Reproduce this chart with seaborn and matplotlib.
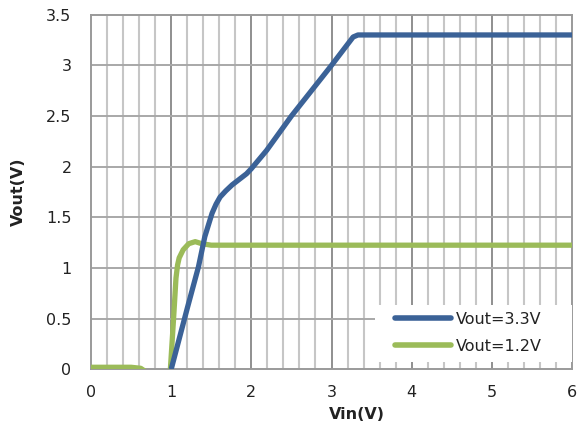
import numpy as np
import pandas as pd
import matplotlib
matplotlib.use("Agg")
import matplotlib.pyplot as plt
from matplotlib.lines import Line2D
from matplotlib.patches import Rectangle
import seaborn as sns

# ---- data ----
vin_33 = [1.0, 1.2, 1.34, 1.42, 1.51, 1.56, 1.61, 1.68, 1.76, 1.94, 2.0, 2.19, 2.5, 3.0, 3.27, 3.33, 3.4, 6.0]
vout_33 = [0.0, 0.6, 1.01, 1.31, 1.54, 1.63, 1.70, 1.76, 1.82, 1.93, 1.98, 2.16, 2.5, 3.0, 3.28, 3.3, 3.3, 3.3]

vin_12 = [0.0, 0.5, 0.62, 0.75, 0.96, 0.99, 1.03, 1.06, 1.08, 1.10, 1.15, 1.22, 1.30, 1.38, 1.5, 6.0]
vout_12 = [0.02, 0.02, 0.01, -0.06, -0.06, 0.0, 0.5, 0.9, 1.03, 1.1, 1.18, 1.24, 1.26, 1.24, 1.225, 1.225]

labels = ["Vout=3.3V", "Vout=1.2V"]
colors = ["#3b6297", "#9bbb59"]
x_ticks = [0, 1, 2, 3, 4, 5, 6]
y_ticks = [0, 0.5, 1, 1.5, 2, 2.5, 3, 3.5]
y_tick_labels = ["0", "0.5", "1", "1.5", "2", "2.5", "3", "3.5"]

df33 = pd.DataFrame({"Vin": vin_33, "Vout": vout_33})
df12 = pd.DataFrame({"Vin": vin_12, "Vout": vout_12})

sns.set_theme(style="white")
plt.rcParams["font.family"] = ["DejaVu Sans"]

fig = plt.figure(figsize=(5.81, 4.29), dpi=100)
ax = fig.add_axes([91 / 581, 1 - 369.3 / 429, 481 / 581, 354.6 / 429])

# grid
for xv in np.arange(0.2, 6.0, 0.2):
    major = abs(xv - round(xv)) < 1e-6
    ax.axvline(xv, color="#8f8f8f" if major else "#c6c6c6",
               lw=1.4 if major else 1.5, zorder=0.5)
for yv in y_ticks[1:-1]:
    ax.axhline(yv, color="#a8a8a8", lw=1.4, zorder=0.5)

sns.lineplot(data=df12, x="Vin", y="Vout", color=colors[1], lw=3.8,
             sort=False, estimator=None, ax=ax, zorder=3, solid_capstyle="butt",
             solid_joinstyle="round")
sns.lineplot(data=df33, x="Vin", y="Vout", color=colors[0], lw=3.8,
             sort=False, estimator=None, ax=ax, zorder=4, solid_capstyle="butt",
             solid_joinstyle="round")

ax.set_xlim(0, 6)
ax.set_ylim(0, 3.5)
ax.set_xticks(x_ticks)
ax.set_xticklabels([str(t) for t in x_ticks])
ax.set_yticks(y_ticks)
ax.set_yticklabels(y_tick_labels)
ax.tick_params(axis="both", length=0, labelsize=11.5, colors="#222222")
ax.tick_params(axis="x", pad=11)
ax.tick_params(axis="y", pad=14)

for s in ax.spines.values():
    s.set_color("#9a9a9a")
    s.set_linewidth(1.4)
    s.set_visible(True)

ax.set_xlabel("Vin(V)", fontsize=11.5, fontweight="bold", color="#222222")
ax.set_ylabel("Vout(V)", fontsize=11.5, fontweight="bold", color="#222222")
ax.xaxis.set_label_coords(0.5 + 25 / 481, -0.107)
ax.yaxis.set_label_coords(-0.135, 0.5)

# legend background box (white, over the grid)
ax.add_patch(Rectangle(((375 - 91) / 481, (369.3 - 362) / 354.6),
                       1 - (375 - 91) / 481, (362 - 305) / 354.6,
                       transform=ax.transAxes, facecolor="white",
                       edgecolor="none", zorder=4.5, clip_on=False))

handles = [Line2D([0], [0], color=colors[0], lw=4, solid_capstyle="round"),
           Line2D([0], [0], color=colors[1], lw=4, solid_capstyle="round")]
leg = ax.legend(handles, labels, loc="upper left",
                bbox_to_anchor=((386 - 91) / 481, (369.3 - 303) / 354.6),
                frameon=False,
                fontsize=11.5, handlelength=3.55, handletextpad=0.3,
                borderpad=0.55, labelspacing=0.75, borderaxespad=0.0)
leg.set_zorder(5)
for t in leg.get_texts():
    t.set_color("#222222")

fig.savefig("out.png", dpi=100)
